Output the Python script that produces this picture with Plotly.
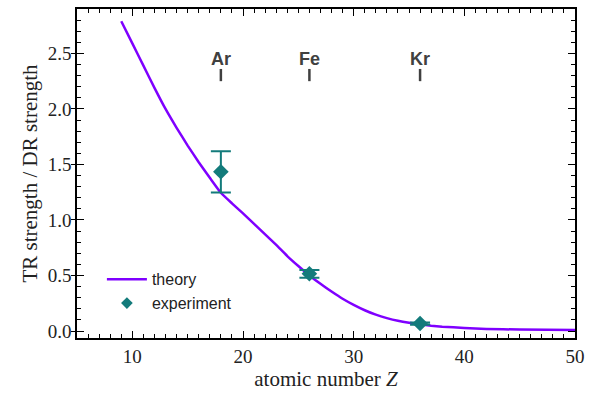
import plotly.graph_objects as go

# Theory curve (Z, ratio)
theory_z = [9, 10, 11, 12, 13, 14, 15, 16, 17, 18, 19, 20, 21, 22, 23, 24, 25, 26, 27, 28, 29, 30,
            31, 32, 33, 34, 35, 36, 37, 38, 40, 42, 45, 50]
theory_r = [2.79, 2.59, 2.39, 2.19, 2.00, 1.83, 1.67, 1.52, 1.38, 1.245, 1.15, 1.06, 0.965, 0.87,
            0.775, 0.675, 0.585, 0.50, 0.425, 0.355, 0.29, 0.235, 0.187, 0.147, 0.116, 0.092, 0.074,
            0.060, 0.048, 0.039, 0.027, 0.019, 0.013, 0.008]

# Experiment
exp_z = [18, 26, 36]
exp_r = [1.434, 0.515, 0.067]
exp_err_plus = [0.186, 0.035, 0.01]
exp_err_minus = [0.186, 0.035, 0.01]

# Element labels
elem_names = ["Ar", "Fe", "Kr"]
elem_z = [18, 26, 36]

purple = "#7f00ff"
teal = "#137b7b"
serif = "Liberation Serif, Times New Roman, serif"
sans = "Liberation Sans, Arial, sans-serif"
y_range = [-0.063, 2.9]

fig = go.Figure()
fig.add_trace(go.Scatter(x=theory_z, y=theory_r, mode="lines", name="theory",
                         line=dict(color=purple, width=2.5, shape="spline", smoothing=0.4)))
fig.add_trace(go.Scatter(x=exp_z, y=exp_r, mode="markers", name="experiment", showlegend=False,
                         marker=dict(symbol="diamond", color=teal, size=12),
                         error_y=dict(type="data", array=exp_err_plus, arrayminus=exp_err_minus,
                                      color=teal, thickness=2, width=10)))
# legend entry with the smaller legend symbol
fig.add_trace(go.Scatter(x=[None], y=[None], mode="markers", name="experiment",
                         marker=dict(symbol="diamond", color=teal, size=9)))

for name, z in zip(elem_names, elem_z):
    fig.add_annotation(x=z, y=2.45, text="<b>%s</b>" % name, showarrow=False,
                       font=dict(family=sans, size=18, color="#404040"))
    fig.add_shape(type="line", x0=z, x1=z, y0=2.25, y1=2.36, xref="x", yref="y",
                  line=dict(color="#404040", width=2.5))

axis_common = dict(showline=True, linecolor="black", linewidth=1.5, mirror="ticks",
                   ticks="inside", tickcolor="black", tickwidth=1.2, ticklen=7,
                   showgrid=False, zeroline=False,
                   tickfont=dict(family=serif, size=19, color="#222"))

fig.update_xaxes(range=[5, 50], dtick=10, tick0=0,
                 minor=dict(dtick=1, ticks="inside", ticklen=4, tickcolor="black", tickwidth=1),
                 title=dict(text="atomic number <i>Z</i>", font=dict(family=serif, size=21, color="#222"), standoff=4),
                 **axis_common)
fig.update_yaxes(range=y_range, dtick=0.5, tick0=0, tickformat=".1f",
                 minor=dict(dtick=0.1, ticks="inside", ticklen=4, tickcolor="black", tickwidth=1),
                 title=dict(text="TR strength / DR strength", font=dict(family=serif, size=21, color="#222"), standoff=4),
                 **axis_common)

fig.update_layout(width=592, height=394, margin=dict(l=77, r=13, t=7, b=56),
                  plot_bgcolor="white", paper_bgcolor="white",
                  # second, overlaid y axis only to draw the outer half of the crossing major ticks
                  yaxis2=dict(overlaying="y", side="left", range=y_range, dtick=0.5, tick0=0,
                              ticks="outside", ticklen=5, tickwidth=1.2, tickcolor="black",
                              showticklabels=False, showgrid=False, zeroline=False, showline=False),
                  legend=dict(x=0.05, y=0.23, xanchor="left", yanchor="top",
                              bgcolor="rgba(0,0,0,0)", font=dict(family=sans, size=16, color="#222"),
                              itemwidth=40, tracegroupgap=0))
fig.add_trace(go.Scatter(x=[None], y=[None], yaxis="y2", showlegend=False, hoverinfo="skip"))

fig.write_html("out.html")
